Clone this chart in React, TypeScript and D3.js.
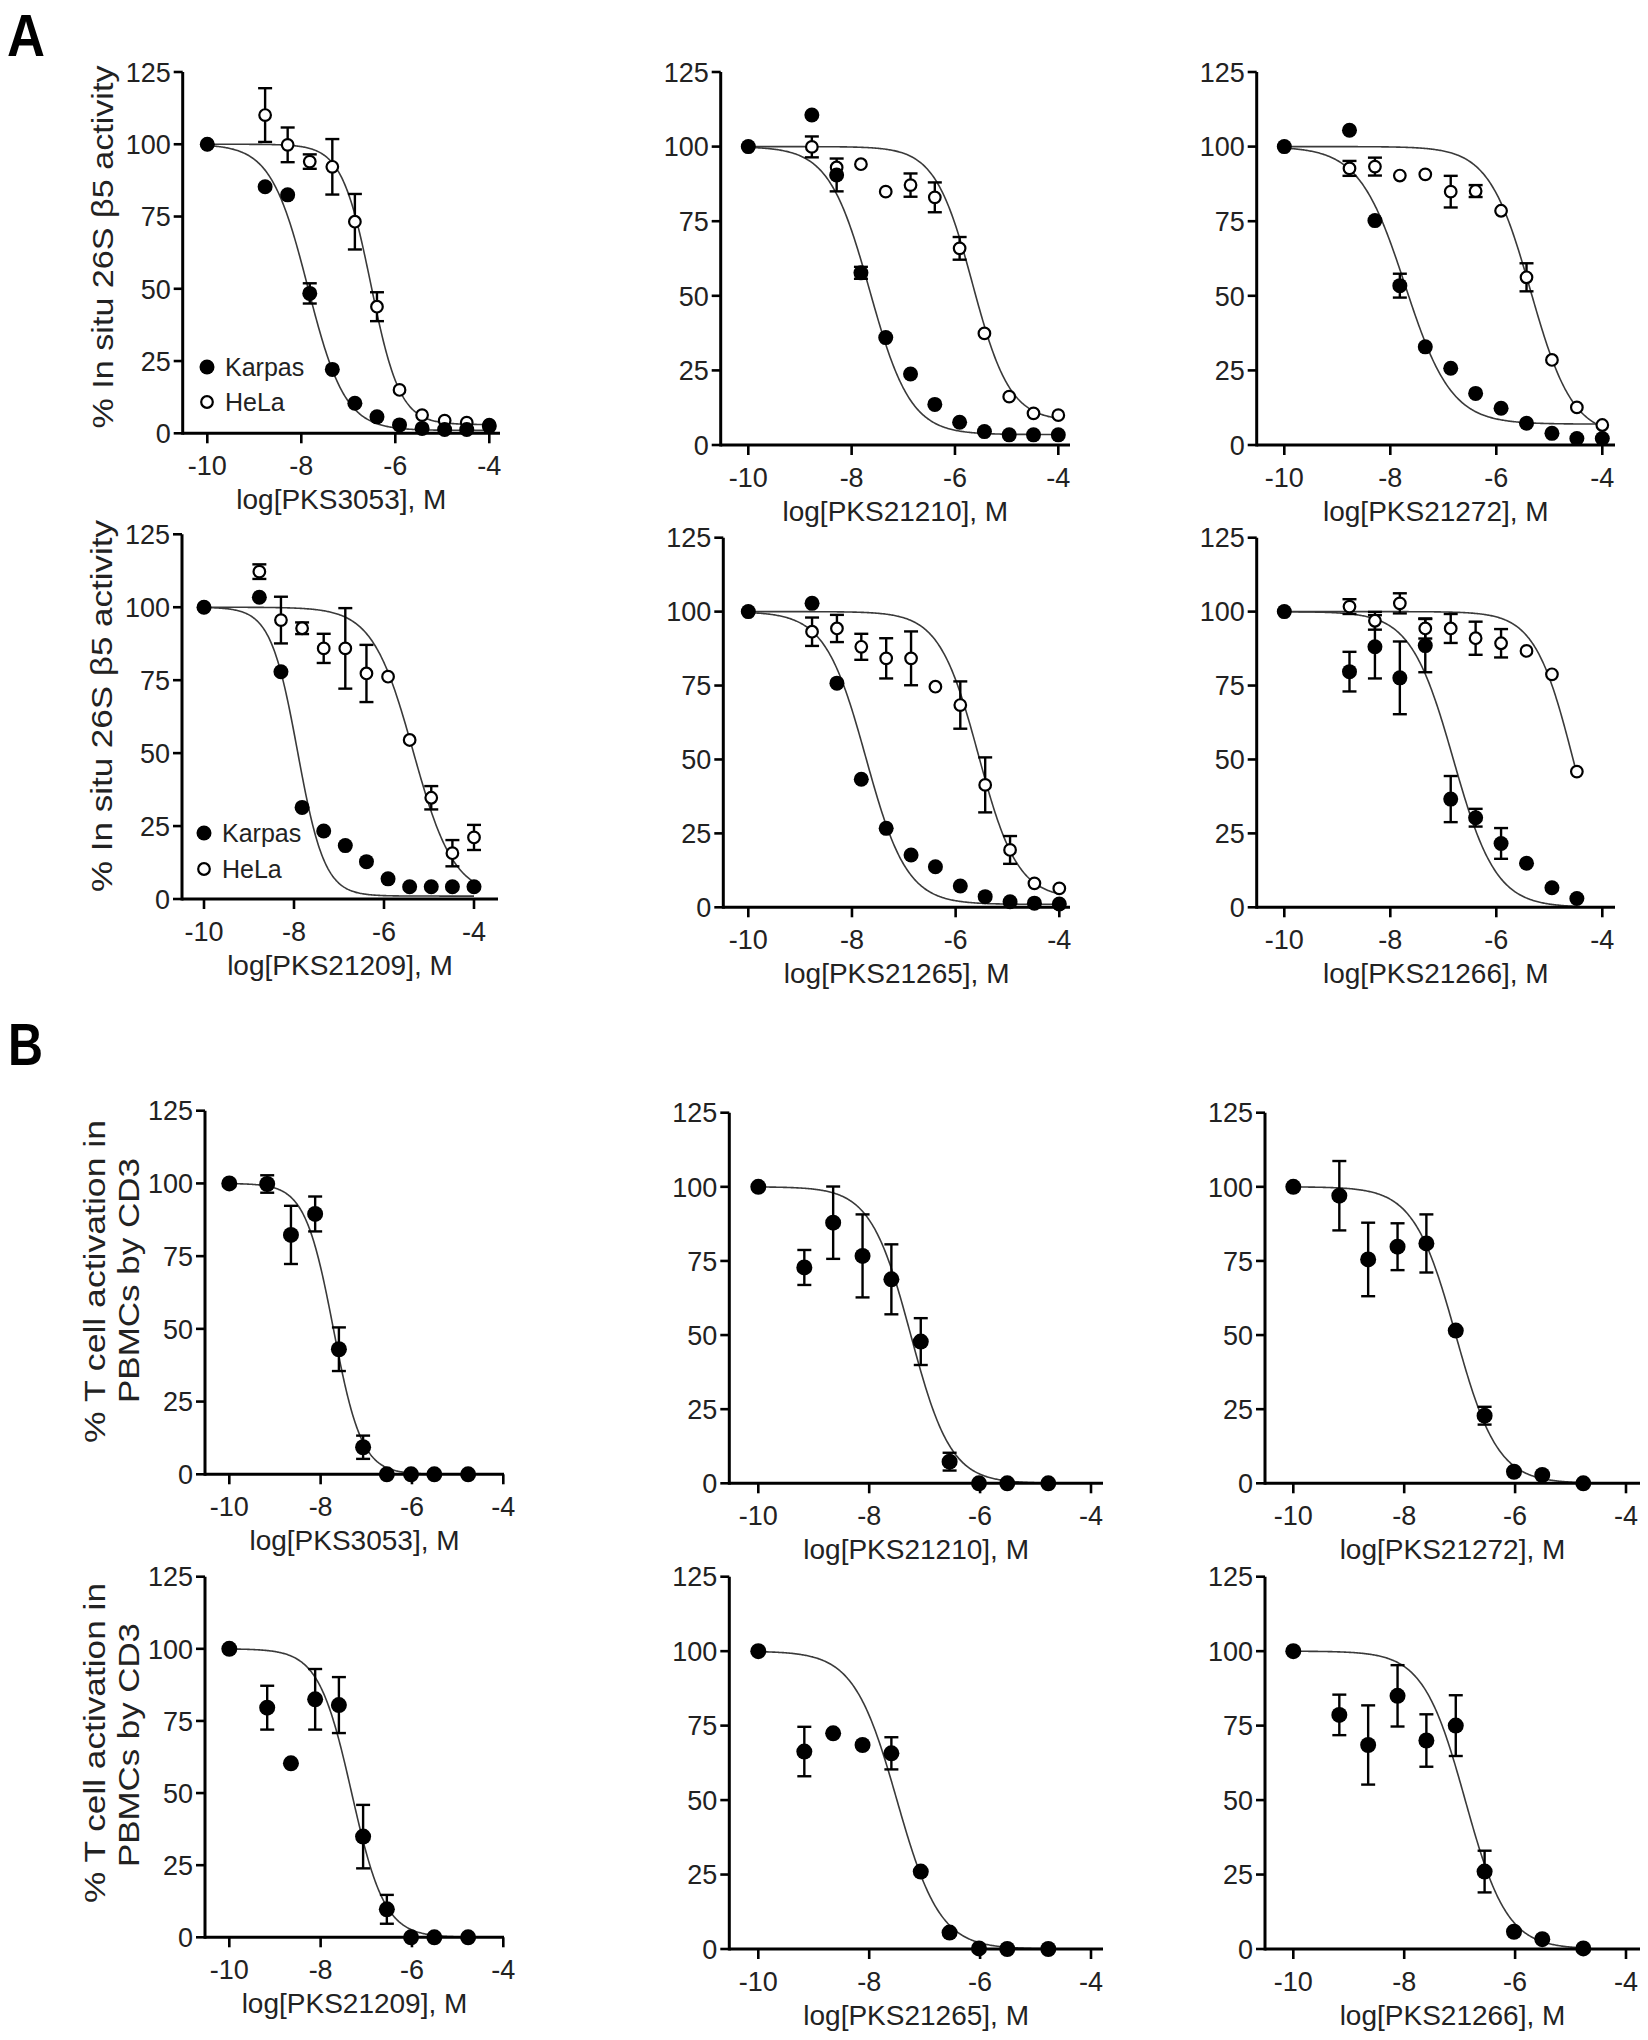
import React from 'react';
import * as d3 from 'd3';

const FONT = '"Liberation Sans", Arial, Helvetica, sans-serif';

// ---------- doses (log M) ----------
const doseA = [-10, -8.77, -8.29, -7.82, -7.34, -6.86, -6.39, -5.91, -5.43, -4.95, -4.48, -4.0];
const doseA6 = [-10, -8.77, -8.29, -7.82, -7.34, -6.86, -6.39, -5.91, -5.43, -4.95, -4.48];
const doseB = [-10, -9.17, -8.65, -8.12, -7.6, -7.07, -6.55, -6.02, -5.51, -4.77];

const yTicks = [0, 25, 50, 75, 100, 125];
const xTicks = [-10, -8, -6, -4];

// ---------- Panel A: in situ 26S beta5 activity ----------
const karpasA1 = [100, 85.3, 82.5, 48.4, 22.1, 10.4, 5.7, 2.9, 1.7, 1.3, 1.3, 2.5];
const karpasA1Err = [0, 0, 0, 3.5, 0, 0, 0, 0, 0, 0, 0, 0];
const helaA1 = [100, 110.1, 99.8, 94, 92.2, 73.2, 43.8, 15, 6.3, 4.4, 3.7, 3];
const helaA1Err = [0, 9.3, 6, 2.5, 9.6, 9.6, 5, 0, 0, 0, 0, 0];

const karpasA2 = [100, 110.6, 90.5, 57.7, 36, 23.8, 13.6, 7.6, 4.5, 3.4, 3.4, 3.4];
const karpasA2Err = [0, 0, 5.5, 2, 0, 0, 0, 0, 0, 0, 0, 0];
const helaA2 = [100, 99.9, 93, 94.1, 84.9, 87.1, 83, 65.9, 37.4, 16.2, 10.6, 10];
const helaA2Err = [0, 3.5, 0, 0, 0, 3.9, 5, 3.8, 0, 0, 0, 0];

const karpasA3 = [100, 105.5, 75.2, 53.4, 32.9, 25.7, 17.3, 12.3, 7.3, 3.9, 2.2, 2.2];
const karpasA3Err = [0, 0, 0, 4, 0, 0, 0, 0, 0, 0, 0, 0];
const helaA3 = [100, 92.7, 93.3, 90.3, 90.7, 84.9, 85.1, 78.5, 56.2, 28.5, 12.6, 6.7];
const helaA3Err = [0, 2.5, 3, 0, 0, 5.3, 2, 0, 4.7, 0, 0, 0];

const karpasA4 = [100, 103.4, 77.9, 31.4, 23.3, 18.3, 12.8, 6.9, 4.2, 4.2, 4.2, 4.2];
const karpasA4Err = [0, 0, 0, 0, 0, 0, 0, 0, 0, 0, 0, 0];
const helaA4 = [100, 112.2, 95.6, 92.8, 85.9, 85.9, 77.3, 76.2, 54.5, 34.7, 15.7, 21.1];
const helaA4Err = [0, 2.5, 8, 2, 5, 13.8, 9.8, 0, 0, 4, 4.5, 4.3];

const karpasA5 = [100, 102.8, 75.8, 43.3, 26.7, 17.7, 13.7, 7.2, 3.6, 1.9, 1.4, 1.1];
const karpasA5Err = [0, 0, 0, 0, 0, 0, 0, 0, 0, 0, 0, 0];
const helaA5 = [100, 93.2, 94.3, 88.1, 84.2, 84.2, 74.6, 68.4, 41.4, 19.4, 8.1, 6.4];
const helaA5Err = [0, 4.8, 4.6, 4.4, 6.8, 9.1, 0, 8, 9.3, 4.7, 0, 0];

const karpasA6 = [100, 79.7, 88.1, 77.6, 88.5, 36.6, 30.3, 21.6, 14.9, 6.6, 3];
const karpasA6Err = [0, 6.7, 10.7, 12.3, 9, 7.8, 3, 5.2, 0, 0, 0];
const helaA6 = [100, 101.7, 96.9, 102.8, 94.3, 94.3, 91, 89.3, 86.7, 78.8, 45.9];
const helaA6Err = [0, 2.5, 3, 3.4, 3.4, 4.9, 5.6, 4.8, 0, 0, 0];

// fitted 4PL parameters [top, bottom, logIC50, hill]
const fitKarpasA = [
  [100, 1, -7.86, 1.1],
  [100, 3.5, -7.65, 1.1],
  [100, 7, -7.72, 1.0],
  [100, 1, -7.92, 1.45],
  [100, 1, -7.73, 1.1],
  [100, 0, -6.81, 1.08],
];
const fitHelaA = [
  [100, 3, -6.52, 1.4],
  [100, 8, -5.66, 1.2],
  [100, 3, -5.35, 1.1],
  [100, 1, -5.35, 0.96],
  [100, 3, -5.56, 1.15],
  [100, 0, -4.55, 1.2],
];

// ---------- Panel B: T cell activation ----------
const tcellB1 = [100, 99.8, 82.3, 89.5, 43, 9.3, 0, 0, 0, 0];
const tcellB1Err = [0, 3, 10, 6, 7.5, 4, 0, 0, 0, 0];
const tcellB2 = [100, 72.8, 87.9, 76.7, 68.8, 47.8, 7.3, 0, 0, 0];
const tcellB2Err = [0, 5.9, 12.2, 14, 11.8, 7.9, 3, 0, 0, 0];
const tcellB3 = [100, 97, 75.5, 79.8, 80.9, 51.5, 22.8, 3.9, 2.8, 0];
const tcellB3Err = [0, 11.7, 12.4, 7.9, 9.8, 0, 3, 0, 0, 0];
const tcellB4 = [100, 79.6, 60.3, 82.5, 80.5, 34.9, 9.7, 0, 0, 0];
const tcellB4Err = [0, 7.6, 0, 10.5, 9.7, 11, 5, 0, 0, 0];
const tcellB5 = [100, 66.3, 72.4, 68.5, 65.7, 26, 5.5, 0.2, 0, 0];
const tcellB5Err = [0, 8.3, 0, 0, 5.4, 0, 0, 0, 0, 0];
const tcellB6 = [100, 78.6, 68.5, 85, 70, 75, 26, 5.8, 3.3, 0.2];
const tcellB6Err = [0, 6.8, 13.3, 10.3, 8.8, 10.2, 7, 0, 0, 0];

const fitTcellB = [
  [100, 0, -7.72, 1.4],
  [100, 0, -7.25, 1.2],
  [100, 0, -7.07, 1.15],
  [100, 0, -7.32, 1.2],
  [100, 0, -7.5, 1.12],
  [100, 0, -6.9, 1.15],
];

const compoundsA = ['PKS3053', 'PKS21210', 'PKS21272', 'PKS21209', 'PKS21265', 'PKS21266'];
const compoundsB = ['PKS3053', 'PKS21210', 'PKS21272', 'PKS21209', 'PKS21265', 'PKS21266'];
const seriesNames = ['Karpas', 'HeLa'];
const yLabelA = '% In situ 26S \u03B25 activity';
const yLabelB = ['% T cell activation in', 'PBMCs by CD3'];

// ---------- layout (pixels) ----------
// ax: y-axis x, xe: x-axis end, x10: pixel of -10, x4: pixel of -4, y0: pixel of 0, y125: pixel of 125
const layoutA = [
  { ax: 182.7, xe: 500, x10: 207.3, x4: 489.3, y0: 433.3, y125: 72 },
  { ax: 720.7, xe: 1070, x10: 748.3, x4: 1058.3, y0: 445, y125: 72 },
  { ax: 1256.7, xe: 1615, x10: 1284.3, x4: 1602.3, y0: 445, y125: 72 },
  { ax: 182, xe: 498, x10: 204, x4: 474, y0: 899, y125: 534.3 },
  { ax: 723.3, xe: 1070, x10: 748.3, x4: 1059.3, y0: 907.3, y125: 537.7 },
  { ax: 1256.7, xe: 1615, x10: 1284.3, x4: 1602.3, y0: 907.3, y125: 537.7 },
];
const layoutB = [
  { ax: 205, xe: 504, x10: 229.3, x4: 503.3, y0: 1474.3, y125: 1110.7 },
  { ax: 729.3, xe: 1103, x10: 758.3, x4: 1091, y0: 1483.3, y125: 1112.7 },
  { ax: 1265, xe: 1640, x10: 1293.3, x4: 1626, y0: 1483.3, y125: 1112.7 },
  { ax: 205, xe: 504, x10: 229.3, x4: 503.3, y0: 1937.3, y125: 1576.7 },
  { ax: 729.3, xe: 1103, x10: 758.3, x4: 1091, y0: 1949, y125: 1576.7 },
  { ax: 1265, xe: 1640, x10: 1293.3, x4: 1626, y0: 1949, y125: 1576.7 },
];

type Series = { values: number[]; err: number[]; fit: number[]; open: boolean };
type PanelCfg = {
  compound: string;
  doses: number[];
  series: Series[];
  L: { ax: number; xe: number; x10: number; x4: number; y0: number; y125: number };
  big: boolean;
};

const karpasVals = [karpasA1, karpasA2, karpasA3, karpasA4, karpasA5, karpasA6];
const karpasErrs = [karpasA1Err, karpasA2Err, karpasA3Err, karpasA4Err, karpasA5Err, karpasA6Err];
const helaVals = [helaA1, helaA2, helaA3, helaA4, helaA5, helaA6];
const helaErrs = [helaA1Err, helaA2Err, helaA3Err, helaA4Err, helaA5Err, helaA6Err];
const tcellVals = [tcellB1, tcellB2, tcellB3, tcellB4, tcellB5, tcellB6];
const tcellErrs = [tcellB1Err, tcellB2Err, tcellB3Err, tcellB4Err, tcellB5Err, tcellB6Err];

const panelsA: PanelCfg[] = compoundsA.map((c, i) => ({
  compound: c,
  doses: i === 5 ? doseA6 : doseA,
  series: [
    { values: helaVals[i], err: helaErrs[i], fit: fitHelaA[i], open: true },
    { values: karpasVals[i], err: karpasErrs[i], fit: fitKarpasA[i], open: false },
  ],
  L: layoutA[i],
  big: false,
}));
const panelsB: PanelCfg[] = compoundsB.map((c, i) => ({
  compound: c,
  doses: doseB,
  series: [{ values: tcellVals[i], err: tcellErrs[i], fit: fitTcellB[i], open: false }],
  L: layoutB[i],
  big: true,
}));

function fourPL(p: number[], xv: number) {
  const [top, bottom, ic, h] = p;
  return bottom + (top - bottom) / (1 + Math.pow(10, (xv - ic) * h));
}

function Panel({ cfg }: { cfg: PanelCfg }) {
  const { L } = cfg;
  const x = d3.scaleLinear().domain([-10, -4]).range([L.x10, L.x4]);
  const y = d3.scaleLinear().domain([0, 125]).range([L.y0, L.y125]);
  const r = cfg.big ? 8 : 7.5;
  const cap = 7;
  const xMin = cfg.doses[0];
  const xMax = cfg.doses[cfg.doses.length - 1];
  const samples = d3.range(0, 301).map((i) => xMin + ((xMax - xMin) * i) / 300);

  return (
    <g>
      {/* fitted curves */}
      {cfg.series.map((s, si) => {
        const lg = d3
          .line<number>()
          .x((d) => x(d))
          .y((d) => y(fourPL(s.fit, d)));
        return <path key={'c' + si} d={lg(samples) || ''} fill="none" stroke="#3a3a3a" strokeWidth={1.6} />;
      })}
      {/* error bars */}
      {cfg.series.map((s, si) =>
        s.values.map((v, i) => {
          const e = s.err[i];
          if (!e) return null;
          const cx = x(cfg.doses[i]);
          return (
            <g key={'e' + si + '-' + i} stroke="#000" strokeWidth={2.4}>
              <line x1={cx} x2={cx} y1={y(v - e)} y2={y(v + e)} />
              <line x1={cx - cap} x2={cx + cap} y1={y(v + e)} y2={y(v + e)} />
              <line x1={cx - cap} x2={cx + cap} y1={y(v - e)} y2={y(v - e)} />
            </g>
          );
        })
      )}
      {/* markers */}
      {cfg.series.map((s, si) =>
        s.values.map((v, i) =>
          s.open ? (
            <circle key={'m' + si + '-' + i} cx={x(cfg.doses[i])} cy={y(v)} r={5.8} fill="#fff" stroke="#000" strokeWidth={2.2} />
          ) : (
            <circle key={'m' + si + '-' + i} cx={x(cfg.doses[i])} cy={y(v)} r={r} fill="#000" />
          )
        )
      )}
      {/* axes */}
      <line x1={L.ax} x2={L.xe} y1={L.y0} y2={L.y0} stroke="#000" strokeWidth={3} />
      <line x1={L.ax} x2={L.ax} y1={L.y0 + 1.5} y2={L.y125} stroke="#000" strokeWidth={3} />
      {yTicks.map((t) => (
        <g key={'yt' + t}>
          <line x1={L.ax - 9} x2={L.ax} y1={y(t)} y2={y(t)} stroke="#000" strokeWidth={2.6} />
          <text x={L.ax - 12} y={y(t)} dy="0.36em" textAnchor="end" fontSize={27} fontFamily={FONT} fill="#222">
            {t}
          </text>
        </g>
      ))}
      {xTicks.map((t) => (
        <g key={'xt' + t}>
          <line x1={x(t)} x2={x(t)} y1={L.y0} y2={L.y0 + 10} stroke="#000" strokeWidth={2.6} />
          <text x={x(t)} y={L.y0 + 42} textAnchor="middle" fontSize={27} fontFamily={FONT} fill="#222">
            {String(t)}
          </text>
        </g>
      ))}
      <text x={(L.ax + L.xe) / 2} y={L.y0 + 76} textAnchor="middle" fontSize={28} fontFamily={FONT} fill="#222">
        {`log[${cfg.compound}], M`}
      </text>
    </g>
  );
}

function LegendA({ cx, cy1, cy2, tx }: { cx: number; cy1: number; cy2: number; tx: number }) {
  return (
    <g>
      <circle cx={cx} cy={cy1} r={7.5} fill="#000" />
      <text x={tx} y={cy1} dy="0.36em" fontSize={25} fontFamily={FONT} fill="#222">
        {seriesNames[0]}
      </text>
      <circle cx={cx} cy={cy2} r={5.8} fill="#fff" stroke="#000" strokeWidth={2.2} />
      <text x={tx} y={cy2} dy="0.36em" fontSize={25} fontFamily={FONT} fill="#222">
        {seriesNames[1]}
      </text>
    </g>
  );
}

function YLabel({ x, y, len, text }: { x: number; y: number; len: number; text: string }) {
  return (
    <text
      transform={`translate(${x},${y}) rotate(-90)`}
      textAnchor="middle"
      dy="0.36em"
      fontSize={29}
      fontFamily={FONT}
      fill="#222"
      textLength={len}
      lengthAdjust="spacingAndGlyphs"
    >
      {text}
    </text>
  );
}

export default function App() {
  return (
    <svg
      width={1648}
      height={2040}
      viewBox="0 0 1648 2040"
      style={{ position: 'absolute', left: 0, top: 0, background: '#fff' }}
    >
      <rect x={0} y={0} width={1648} height={2040} fill="#fff" />
      <text x={7} y={56} fontSize={60} fontWeight="bold" fontFamily={FONT} fill="#000" textLength={38} lengthAdjust="spacingAndGlyphs">
        A
      </text>
      <text x={8} y={1065} fontSize={60} fontWeight="bold" fontFamily={FONT} fill="#000" textLength={35} lengthAdjust="spacingAndGlyphs">
        B
      </text>
      {panelsA.map((p, i) => (
        <Panel key={'a' + i} cfg={p} />
      ))}
      {panelsB.map((p, i) => (
        <Panel key={'b' + i} cfg={p} />
      ))}
      <LegendA cx={207} cy1={367} cy2={402} tx={225} />
      <LegendA cx={204} cy1={833} cy2={869} tx={222} />
      <YLabel x={103} y={247} len={363} text={yLabelA} />
      <YLabel x={102} y={706} len={372} text={yLabelA} />
      <YLabel x={95} y={1281.5} len={323} text={yLabelB[0]} />
      <YLabel x={128.5} y={1280.5} len={245} text={yLabelB[1]} />
      <YLabel x={95} y={1743} len={320} text={yLabelB[0]} />
      <YLabel x={128.5} y={1745} len={244} text={yLabelB[1]} />
    </svg>
  );
}
